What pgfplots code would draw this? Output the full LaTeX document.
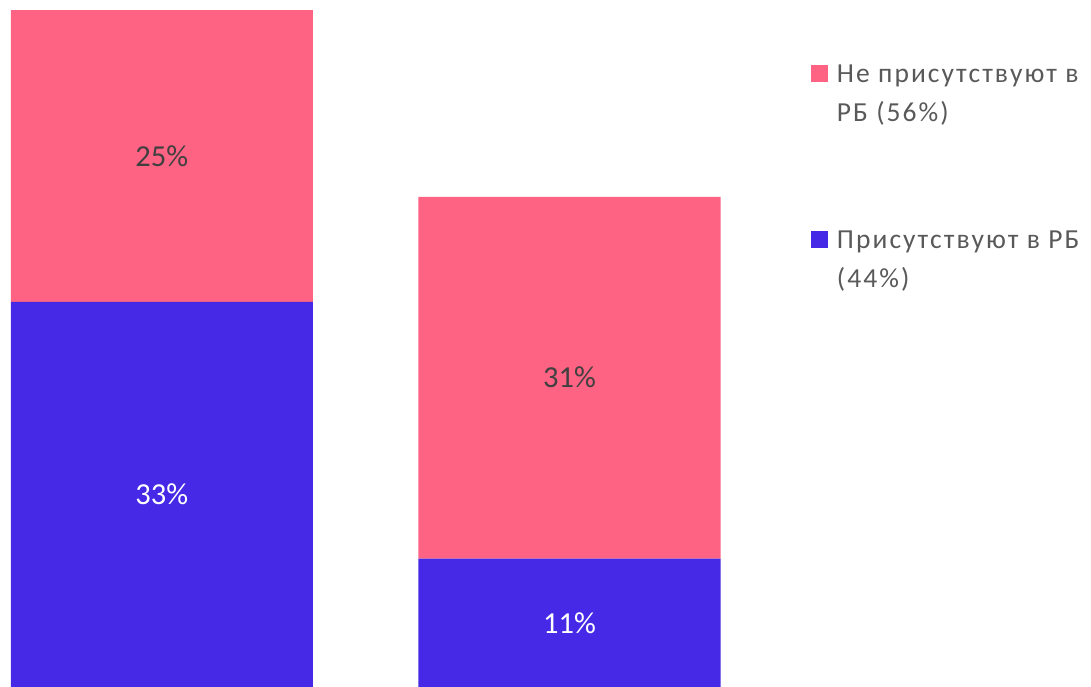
\documentclass[border=0pt]{standalone}
\usepackage{pgfplots}
\pgfplotsset{compat=1.18}
\usepackage{fontspec}
\setmainfont{Carlito}
\newfontfamily\legfont[LetterSpace=7.5]{Carlito}
\definecolor{pinkc}{HTML}{FF6384}
\definecolor{bluec}{HTML}{4529E6}
\definecolor{legtxt}{HTML}{595959}
\definecolor{labtxt}{HTML}{404040}
\begin{document}
\begin{tikzpicture}
\useasboundingbox (0,0) rectangle (1091bp,687bp);
\begin{axis}[
  at={(0,0)}, anchor=south west,
  scale only axis, width=1091bp, height=687bp,
  xmin=-0.3967, xmax=2.279, ymin=0, ymax=58.86,
  axis lines=none,
  ybar stacked, bar width=302bp,
  clip=false,
  point meta=explicit symbolic,
  nodes near coords,
  nodes near coords align=center,
  every node near coord/.append style={anchor=center, inner sep=0pt,
     font=\fontsize{30.5bp}{37bp}\selectfont},
  reverse legend,
  legend style={at={(axis description cs:0.7433,0.9054)}, anchor=north west,
     draw=none, fill=none, inner sep=0pt, outer sep=0pt,
     row sep=108bp, column sep=9bp,
     font=\legfont\fontsize{27.5bp}{36bp}\selectfont, text=legtxt,
     cells={anchor=north west},
     nodes={inner sep=0pt, align=left}},
  legend image code/.code={\fill[#1,draw=none] (0bp,0bp) rectangle (17bp,-17bp);},
]
\addplot[fill=bluec, draw=none, nodes near coords style={text=white}] coordinates {(0,33) [33\%] (1,11) [11\%]};
\addlegendentry{Присутствуют в РБ\\[3bp](44\%)}
\addplot[fill=pinkc, draw=none, nodes near coords style={text=labtxt}] coordinates {(0,25) [25\%] (1,31) [31\%]};
\addlegendentry{Не присутствуют в\\[3bp]РБ (56\%)}
\end{axis}
\end{tikzpicture}
\end{document}
